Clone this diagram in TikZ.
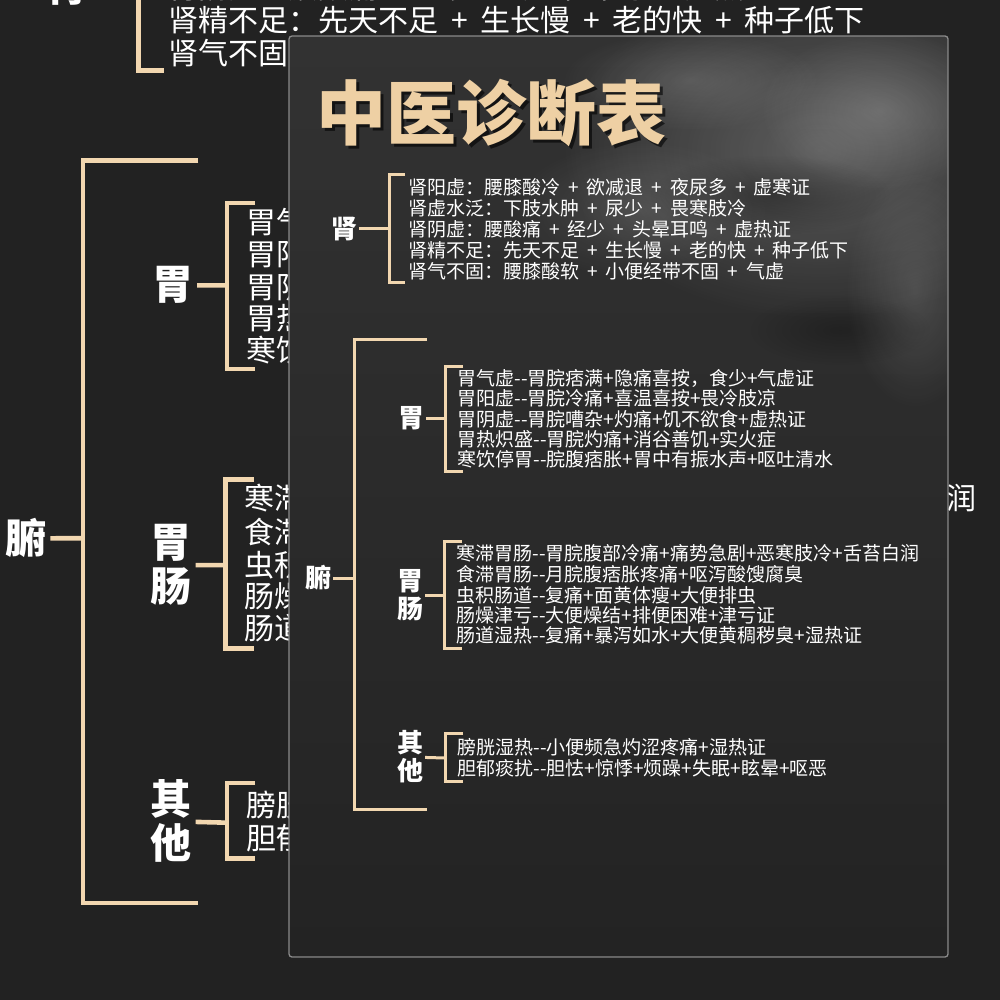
\documentclass[tikz,border=0pt]{standalone}
\usepackage{fontspec}
\newfontfamily\cjk{Noto Sans CJK SC}
\usetikzlibrary{fadings}
\tikzfading[name=softblob, inner color=transparent!0, outer color=transparent!100]
\definecolor{bgc}{HTML}{222222}
\definecolor{tanc}{HTML}{F2D7B0}
\definecolor{titc}{HTML}{EED0A4}
\definecolor{cardtop}{HTML}{323232}
\definecolor{cardbot}{HTML}{232323}
\definecolor{edgec}{HTML}{8A8A8A}
\newcommand\dsh{-\kern0.5pt-}
\newcommand\pl{\hspace{0.42em}+\hspace{0.42em}}
\tikzset{
  lbl/.style={text=white, inner sep=2pt, align=center, font=\cjk\bfseries\fontsize{26}{28}\selectfont},
  itm/.style={anchor=west, inner sep=0pt, text=white, font=\cjk\fontsize{19}{21}\selectfont},
  br/.style={draw=tanc, line width=\brw},
  titlestyle/.style={inner sep=0pt, font=\cjk\bfseries\fontsize{70}{72}\selectfont}
}
\newcommand\tcmtree[2]{%
  \def\brw{#2}%
  % main bracket
  \node[lbl] (#1fu) at (318,578) {腑};
  \coordinate (#1fuB) at (354,578);
  \draw[br] (427,339) -| (354,809) -- (427,809);
  \draw[br] (#1fu) -- (#1fuB);
  % shen
  \node[lbl] (#1shen) at (344,229) {肾};
  \coordinate (#1shenB) at (389,229);
  \draw[br] (405,175) -| (389,282) -- (405,282);
  \draw[br] (#1shen) -- (#1shenB);
  \node[itm] (#1s1) at (408,187) {肾阳虚：腰膝酸冷\pl 欲减退\pl 夜尿多\pl 虚寒证};
  \node[itm] (#1s2) at (408,208) {肾虚水泛：下肢水肿\pl 尿少\pl 畏寒肢冷};
  \node[itm] (#1s3) at (408,229) {肾阴虚：腰酸痛\pl 经少\pl 头晕耳鸣\pl 虚热证};
  \node[itm] (#1s4) at (408,250) {肾精不足：先天不足\pl 生长慢\pl 老的快\pl 种子低下};
  \node[itm] (#1s5) at (408,271) {肾气不固：腰膝酸软\pl 小便经带不固\pl 气虚};
  % wei
  \node[lbl] (#1wei) at (411,418) {胃};
  \coordinate (#1weiB) at (445,418);
  \draw[br] (463,366) -| (445,471) -- (463,471);
  \draw[br] (#1wei) -- (#1weiB);
  \node[itm] (#1w1) at (457,378) {胃气虚\dsh 胃脘痞满+隐痛喜按，食少+气虚证};
  \node[itm] (#1w2) at (457,398) {胃阳虚\dsh 胃脘冷痛+喜温喜按+畏冷肢凉};
  \node[itm] (#1w3) at (457,419) {胃阴虚\dsh 胃脘嘈杂+灼痛+饥不欲食+虚热证};
  \node[itm] (#1w4) at (457,439) {胃热炽盛\dsh 胃脘灼痛+消谷善饥+实火症};
  \node[itm] (#1w5) at (457,459) {寒饮停胃\dsh 脘腹痞胀+胃中有振水声+呕吐清水};
  % weichang
  \node[lbl] (#1wc) at (410,595) {胃\\肠};
  \coordinate (#1wcB) at (444,595);
  \draw[br] (462,541) -| (444,648) -- (462,648);
  \draw[br] (#1wc) -- (#1wcB);
  \node[itm] (#1c1) at (456,553) {寒滞胃肠\dsh 胃脘腹部冷痛+痛势急剧+恶寒肢冷+舌苔白润};
  \node[itm] (#1c2) at (456,574) {食滞胃肠\dsh 月脘腹痞胀疼痛+呕泻酸馊腐臭};
  \node[itm] (#1c3) at (456,595) {虫积肠道\dsh 复痛+面黄体瘦+大便排虫};
  \node[itm] (#1c4) at (456,615) {肠燥津亏\dsh 大便燥结+排便困难+津亏证};
  \node[itm] (#1c5) at (456,635) {肠道湿热\dsh 复痛+暴泻如水+大便黄稠秽臭+湿热证};
  % qita
  \node[lbl] (#1qt) at (410,757) {其\\他};
  \coordinate (#1qtB) at (445,758);
  \draw[br] (463,733) -| (445,781) -- (463,781);
  \draw[br] (#1qt) -- (#1qtB);
  \node[itm] (#1q1) at (457,747) {膀胱湿热\dsh 小便频急灼涩疼痛+湿热证};
  \node[itm] (#1q2) at (457,768) {胆郁痰扰\dsh 胆怯+惊悸+烦躁+失眠+眩晕+呕恶};
}
\begin{document}
\begin{tikzpicture}[x=1pt,y=-1pt]
\useasboundingbox (0,0) rectangle (1000,1000);
\clip (0,0) rectangle (1000,1000);
\fill[bgc] (0,0) rectangle (1000,1000);
% enlarged background copy
\begin{scope}[shift={(-476.3,-375.2)}, scale=1.58, transform shape]
  \tcmtree{b}{4.6pt}
\end{scope}
% card
\fill[top color=cardtop, bottom color=cardbot, rounded corners=3] (289,36) rectangle (948,957);
\begin{scope}
  \clip[rounded corners=3] (289,36) rectangle (948,957);
  \fill[white, opacity=0.22, path fading=softblob] (820,150) ellipse (260 and 170);
  \fill[white, opacity=0.18, path fading=softblob] (880,110) ellipse (120 and 80);
  \fill[white, opacity=0.14, path fading=softblob] (690,80) ellipse (130 and 50);
  \fill[white, opacity=0.12, path fading=softblob] (640,210) ellipse (130 and 70);
  \fill[white, opacity=0.14, path fading=softblob] (915,290) ellipse (70 and 120);
  \fill[black, opacity=0.30, path fading=softblob] (770,195) ellipse (120 and 40);
  \fill[black, opacity=0.25, path fading=softblob] (840,330) ellipse (90 and 35);
\end{scope}
\draw[edgec, line width=1.3, rounded corners=3] (289,36) rectangle (948,957);
% title
\node[titlestyle, text=black, opacity=0.6] (titleshadow) at (494,116) {中医诊断表};
\node[titlestyle, text=titc] (title) at (491,113) {中医诊断表};
% card content
\tcmtree{c}{3pt}
\end{tikzpicture}
\end{document}
